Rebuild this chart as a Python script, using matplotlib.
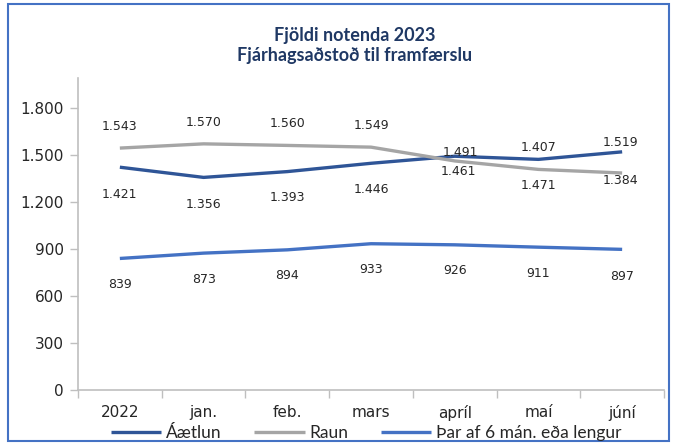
import matplotlib
matplotlib.use("Agg")
import matplotlib.pyplot as plt
from matplotlib.ticker import FuncFormatter, FixedLocator
from matplotlib.patches import Rectangle
from matplotlib.lines import Line2D

categories = ["2022", "jan.", "feb.", "mars", "apríl", "maí", "júní"]
aaetlun = [1421, 1356, 1393, 1446, 1491, 1471, 1519]
raun = [1543, 1570, 1560, 1549, 1461, 1407, 1384]
thar_af = [839, 873, 894, 933, 926, 911, 897]
series_names = ["Áætlun", "Raun", "Þar af 6 mán. eða lengur"]
title_lines = ["Fjöldi notenda 2023", "Fjárhagsaðstoð til framfærslu"]
yticks = [0, 300, 600, 900, 1200, 1500, 1800]

# label offsets in pixels (dx, dy), positive dy = downwards in image
aaetlun_off = [(0, 27), (0, 27), (0, 26), (0, 26), (6, -4), (0, 26), (-2, -9)]
raun_off = [(0, -22), (0, -21), (0, -22), (0, -22), (4, 11), (0, -22), (-2, 7)]
thar_off = [(0, 26), (0, 26), (0, 26), (0, 26), (0, 26), (0, 26), (0, 27)]

colors = ["#2F5597", "#A5A5A5", "#4472C4"]

def fmt(v):
    return f"{int(v):,}".replace(",", ".")

W, H = 677, 445
fig = plt.figure(figsize=(W / 100, H / 100), dpi=100)
ax = fig.add_axes([78 / W, 1 - 390 / H, (664 - 78) / W, (390 - 78) / H])

x = list(range(len(categories)))
ax.plot(x, aaetlun, color=colors[0], lw=2.4, solid_capstyle="butt")
ax.plot(x, raun, color=colors[1], lw=2.4, solid_capstyle="butt")
ax.plot(x, thar_af, color=colors[2], lw=2.4, solid_capstyle="butt")

for vals, offs in [(aaetlun, aaetlun_off), (raun, raun_off), (thar_af, thar_off)]:
    for xi, v, (dx, dy) in zip(x, vals, offs):
        ax.annotate(fmt(v), (xi, v), xytext=(dx, -dy), textcoords="offset pixels",
                    ha="center", va="center", fontsize=9, color="#262626",
                    family="DejaVu Sans")

ax.set_xlim(-0.5, len(categories) - 0.5)
ax.set_ylim(0, 1990)
ax.yaxis.set_major_locator(FixedLocator(yticks))
ax.yaxis.set_major_formatter(FuncFormatter(lambda v, p: fmt(v)))
ax.set_xticks(x)
ax.set_xticklabels(categories)
ax.set_xticks([i - 0.5 for i in range(len(categories) + 1)], minor=True)
ax.tick_params(axis="x", which="major", length=0, pad=11, labelsize=11, labelcolor="#262626")
ax.tick_params(axis="x", which="minor", length=6, color="#BFBFBF", width=1)
ax.tick_params(axis="y", which="major", length=6, color="#BFBFBF", width=1, pad=4,
               labelsize=11, labelcolor="#262626")
for lbl in ax.get_xticklabels() + ax.get_yticklabels():
    lbl.set_family("DejaVu Sans")

for s in ["top", "right"]:
    ax.spines[s].set_visible(False)
for s in ["left", "bottom"]:
    ax.spines[s].set_color("#BFBFBF")
    ax.spines[s].set_linewidth(1.2)

fig.text(355 / W, 1 - 35 / H, title_lines[0], ha="center", va="center",
         fontsize=13, fontweight="bold", color="#1F3864", family="Lato")
fig.text(355 / W, 1 - 56 / H, title_lines[1], ha="center", va="center",
         fontsize=13, fontweight="bold", color="#1F3864", family="Lato")

handles = [Line2D([0], [0], color=c, lw=2.4, solid_capstyle="butt") for c in colors]
leg = fig.legend(handles, series_names, loc="center", bbox_to_anchor=(366 / W, 1 - 433 / H),
                 ncol=3, frameon=False, handlelength=2.9, handletextpad=0.25,
                 columnspacing=1.9, prop={"family": "Lato", "size": 12.5})
for t in leg.get_texts():
    t.set_color("#262626")

fig.patches.append(Rectangle((8 / W, 4 / H), (669 - 8) / W, (441 - 4) / H,
                             transform=fig.transFigure, fill=False,
                             edgecolor="#4472C4", lw=1.5))

fig.savefig("out.png", dpi=100)
